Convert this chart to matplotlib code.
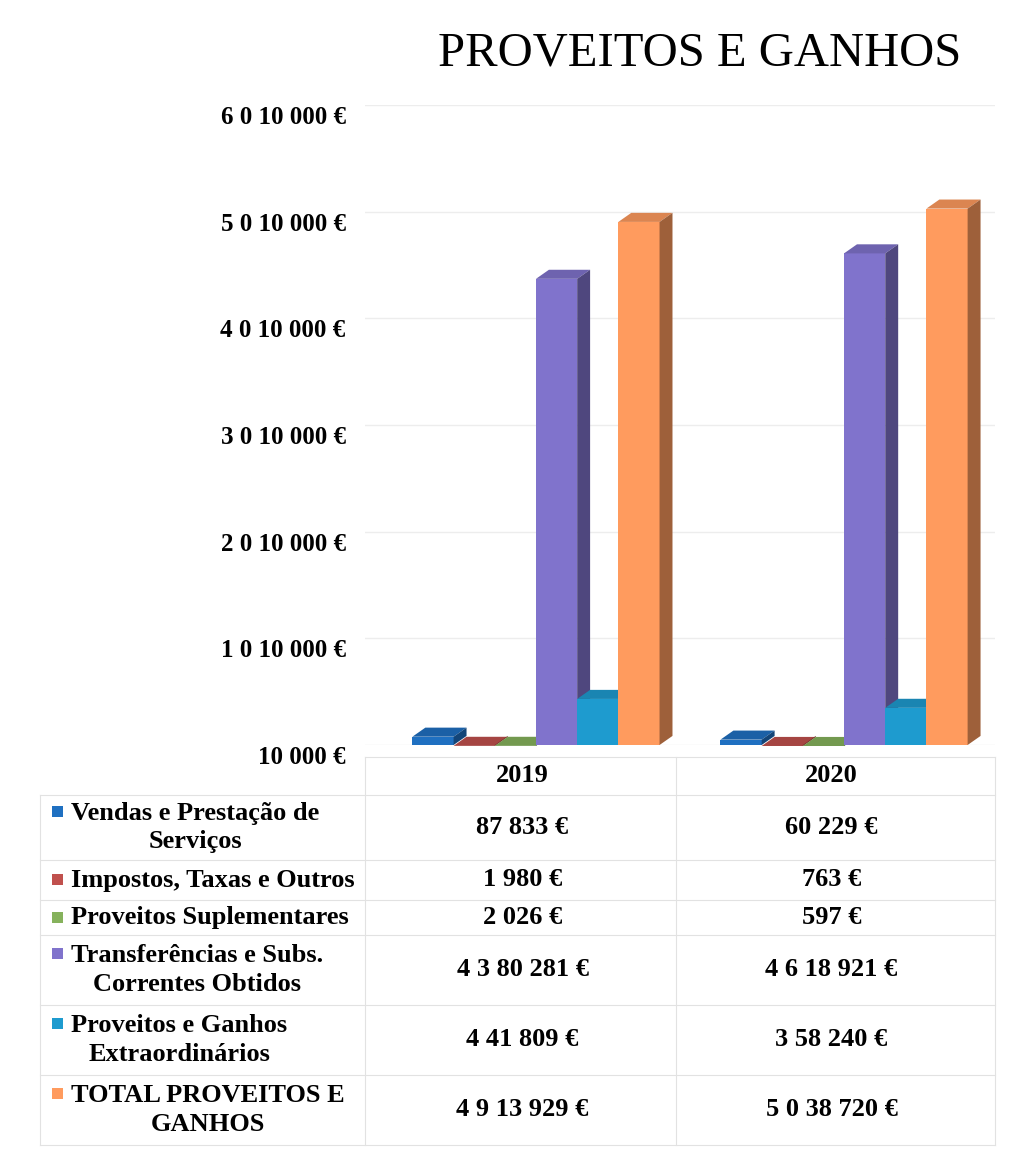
import matplotlib
matplotlib.use("Agg")
import matplotlib.pyplot as plt
from matplotlib.patches import Polygon
from matplotlib.colors import to_rgb
from matplotlib.transforms import ScaledTranslation

# data
years = ["2019", "2020"]
series = ["Vendas e Prestação de\nServiços",
          "Impostos, Taxas e Outros",
          "Proveitos Suplementares",
          "Transferências e Subs.\nCorrentes Obtidos",
          "Proveitos e Ganhos\nExtraordinários",
          "TOTAL PROVEITOS E\nGANHOS"]
vals_2019 = [87833, 1980, 2026, 4380281, 441809, 4913929]
vals_2020 = [60229, 763, 597, 4618921, 358240, 5038720]
colors = ["#1F70C1", "#C0504D", "#86B25C", "#8073CC", "#1E9BCF", "#FF9B5E"]
y_ticks = [10000, 1010000, 2010000, 3010000, 4010000, 5010000, 6010000]

W, H = 1021, 1150
plt.rcParams['font.family'] = ['Liberation Serif', 'DejaVu Serif']
plt.rcParams['font.weight'] = 'bold'


def fmt(v):
    # the odd grouping used in the sheet: 3 digits, then 2, then single digits
    s = str(int(v))
    parts = [s[-3:]]
    rest = s[:-3]
    if rest:
        parts.insert(0, rest[-2:])
        rest = rest[:-2]
    for d in reversed(rest):
        parts.insert(0, d)
    return " ".join(parts) + " €"


def px(x):
    return x / W


def py(y):
    return 1 - y / H


fig = plt.figure(figsize=(W / 100, H / 100), dpi=100)
ax = fig.add_axes([px(365), py(745), px(995) - px(365), (745 - 105) / H])

ymin, ymax = y_ticks[0], y_ticks[-1]
ax.set_ylim(ymin, ymax)
ax.set_xlim(-0.555, 1.49)

bw = 0.1337
dx = 0.042
dy = 85000
vals = [vals_2019, vals_2020]
for i, name in enumerate(series):
    c = to_rgb(colors[i])
    top_c = tuple(k * 0.86 for k in c)
    side_c = tuple(k * 0.62 for k in c)
    xs = [g + (i - 2.5) * bw for g in range(len(years))]
    hs = [vals[g][i] for g in range(len(years))]
    ax.bar(xs, hs, width=bw, color=c, zorder=3 + i, linewidth=0)
    for x, v in zip(xs, hs):
        x0, x1 = x - bw / 2, x + bw / 2
        top = Polygon([(x0, v), (x0 + dx, v + dy), (x1 + dx, v + dy), (x1, v)],
                      closed=True, facecolor=top_c, edgecolor="none",
                      zorder=3 + i, clip_on=False)
        side = Polygon([(x1, ymin), (x1 + dx, ymin + dy), (x1 + dx, v + dy), (x1, v)],
                       closed=True, facecolor=side_c, edgecolor="none",
                       zorder=3 + i, clip_on=False)
        ax.add_patch(top)
        ax.add_patch(side)

ax.set_yticks(y_ticks)
ax.set_yticklabels([fmt(t) for t in y_ticks], fontsize=18, fontweight='bold')
ax.tick_params(axis='y', length=0, pad=14)
shift = ScaledTranslation(0, -0.1, fig.dpi_scale_trans)
for lab in ax.get_yticklabels():
    lab.set_transform(lab.get_transform() + shift)
ax.set_xticks([])
ax.grid(axis='y', color="#EDEDED", linewidth=1)
ax.set_axisbelow(True)
for s in ax.spines.values():
    s.set_visible(False)

fig.text(px(700), py(53), "PROVEITOS E GANHOS", fontsize=35, fontweight='normal',
         ha='center', va='center')

# data table below the chart
col_x = [40, 365, 676, 995]
row_y = [757, 795, 860, 900, 935, 1005, 1075, 1145]
line_c = "#E2E2E2"
for x in col_x:
    fig.add_artist(plt.Line2D([px(x), px(x)], [py(row_y[0] if x != 40 else row_y[1]), py(row_y[-1])],
                              color=line_c, linewidth=0.8))
for k, y in enumerate(row_y):
    x_start = col_x[0] if k > 0 else col_x[1]
    fig.add_artist(plt.Line2D([px(x_start), px(col_x[-1])], [py(y), py(y)],
                              color=line_c, linewidth=0.8))

col_centers = [(col_x[1] + col_x[2]) / 2 + 2, (col_x[2] + col_x[3]) / 2 - 4]
head_y = (row_y[0] + row_y[1]) / 2
for j, yr in enumerate(years):
    fig.text(px(col_centers[j]), py(head_y), yr, fontsize=19, fontweight='bold',
             ha='center', va='center')

for i, name in enumerate(series):
    yc = (row_y[i + 1] + row_y[i + 2]) / 2
    nlines = name.count("\n") + 1
    fig.text(px(71), py(yc), name, fontsize=19, fontweight='bold',
             ha='left', va='center', multialignment='center', linespacing=1.32)
    my = yc - 16 if nlines == 2 else yc
    fig.add_artist(plt.Rectangle((px(52), py(my) - 5 / H), 11 / W, 11 / H,
                                 facecolor=colors[i], edgecolor="none"))
    for j in range(len(years)):
        fig.text(px(col_centers[j]), py(yc), fmt(vals[j][i]), fontsize=19,
                 fontweight='bold', ha='center', va='center')

fig.savefig("out.png", dpi=100)
